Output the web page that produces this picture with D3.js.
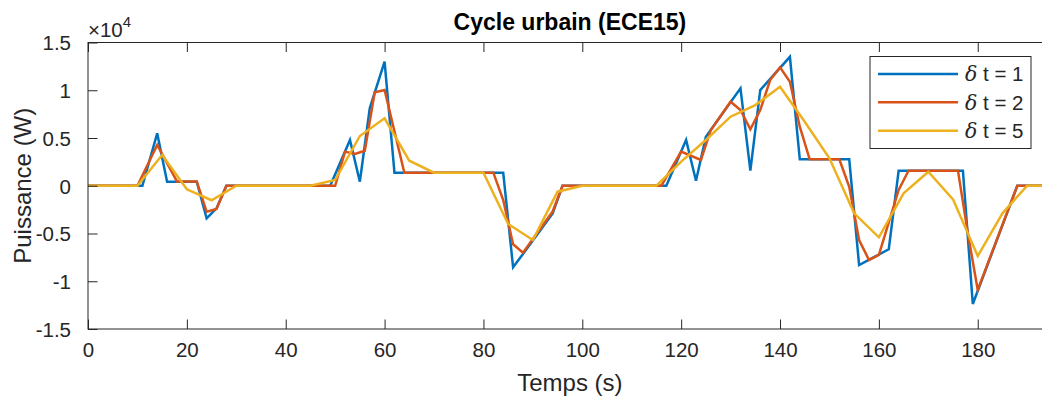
<!DOCTYPE html>
<html>
<head>
<meta charset="utf-8">
<script src="https://cdn.jsdelivr.net/npm/d3@7"></script>
<style>
  html, body { margin: 0; padding: 0; background: #fff; }
  svg { display: block; }
  text { font-family: "Liberation Sans", Arial, Helvetica, sans-serif; fill: #262626; }
</style>
</head>
<body>
<svg id="chart" width="1042" height="397"></svg>
<script>
// ---- data ----
const title = "Cycle urbain (ECE15)";
const xLabel = "Temps (s)";
const yLabel = "Puissance (W)";
const xTicks = [0, 20, 40, 60, 80, 100, 120, 140, 160, 180];
const yTicks = [-15000, -10000, -5000, 0, 5000, 10000, 15000];
const yTickLabels = ["-1.5", "-1", "-0.5", "0", "0.5", "1", "1.5"];
const seriesNames = ["1", "2", "5"];
const seriesColors = ["#0072BD", "#D95319", "#EDB120"];

// δt = 1 (breakpoints of the curve)
const tBlue = [0, 11, 14, 16, 22, 24, 26, 28, 49, 53, 55, 57, 60, 62, 84, 86, 88, 94, 96, 117, 121, 123, 125, 132, 134, 136, 142, 144, 154, 156, 162, 164, 177, 179, 188, 195];
const pBlue = [0, 0, 5490, 424, 424, -3410, -2360, 0, 0, 4790, 424, 8110, 12990, 1370, 1370, -8540, -7150, -2890, 0, 0, 4790, 530, 5140, 10200, 1580, 10020, 13500, 2770, 2770, -8300, -6650, 1580, 1580, -12380, 0, 0];

// δt = 2
const tRed = [0, 10, 14, 18, 22, 24, 26, 28, 50, 52, 54, 56, 58, 60, 64, 82, 84, 86, 88, 94, 96, 116, 120, 124, 126, 130, 132, 134, 136, 138, 140, 142, 144, 146, 152, 154, 156, 158, 160, 164, 166, 176, 178, 180, 188, 194];
const pRed = [0, 0, 4270, 450, 450, -2720, -2430, 0, 0, 3570, 3320, 3670, 9780, 10020, 1370, 1370, -1500, -6130, -7010, -2700, 0, 0, 3570, 2700, 5840, 8800, 7930, 5910, 7930, 11070, 12400, 10890, 6180, 2770, 2770, -100, -5680, -7770, -7250, -445, 1580, 1580, -4980, -10910, 0, 0];

// δt = 5
const tYellow = [0, 5, 10, 15, 20, 25, 30, 35, 40, 45, 50, 55, 60, 65, 70, 75, 80, 85, 90, 95, 100, 105, 110, 115, 120, 125, 130, 135, 140, 145, 150, 155, 160, 165, 170, 175, 180, 185, 190, 195];
const pYellow = [0, 0, 0, 3220, -370, -1520, 0, 0, 0, 0, 600, 5210, 7060, 2620, 1370, 1370, 1370, -4000, -5680, -620, 0, 0, 0, 0, 2520, 4790, 7230, 8450, 10370, 6700, 2870, -2890, -5400, -790, 1470, -1420, -7360, -2890, 0, 0];

// ---- layout ----
const plotL = 88, plotT = 42.5, plotB = 329;
const pxPerSec = 4.943;
const xMax = 195;
const plotR = plotL + xMax * pxPerSec;

const svg = d3.select("#chart");
const x = d3.scaleLinear().domain([0, xMax]).range([plotL, plotR]);
const y = d3.scaleLinear().domain([-15000, 15000]).range([plotB, plotT]);

svg.append("defs").append("clipPath").attr("id", "plotClip")
  .append("rect").attr("x", plotL).attr("y", plotT).attr("width", plotR - plotL).attr("height", plotB - plotT);

svg.append("rect").attr("x", plotL).attr("y", plotT).attr("width", plotR - plotL).attr("height", plotB - plotT).attr("fill", "#fff");

// series
const series = [
  {t: tBlue, p: pBlue},
  {t: tRed, p: pRed},
  {t: tYellow, p: pYellow}
];
const line = d3.line().x(d => x(d[0])).y(d => y(d[1]));
const g = svg.append("g").attr("clip-path", "url(#plotClip)");
series.forEach((s, i) => {
  const pts = s.t.map((t, k) => [t, s.p[k]]);
  g.append("path").datum(pts)
    .attr("d", line)
    .attr("fill", "none")
    .attr("stroke", seriesColors[i])
    .attr("stroke-width", 2.5)
    .attr("stroke-linejoin", "miter");
});

// axes (box with inward ticks)
const tickLen = 9.5;
const axisColor = "#262626";
const axG = svg.append("g");
const xAxisB = d3.axisBottom(x).tickValues(xTicks).tickSize(-tickLen).tickPadding(13).tickFormat(d3.format("d"));
const xAxisT = d3.axisTop(x).tickValues(xTicks).tickSize(-tickLen).tickFormat("");
const yAxisL = d3.axisLeft(y).tickValues(yTicks).tickSize(-tickLen).tickPadding(17).tickFormat((d, i) => yTickLabels[i]);
const yAxisR = d3.axisRight(y).tickValues(yTicks).tickSize(-tickLen).tickFormat("");

function styleAxis(sel) {
  sel.select(".domain").attr("stroke", axisColor).attr("stroke-width", 1);
  sel.selectAll(".tick line").attr("stroke", axisColor).attr("stroke-width", 1);
  sel.selectAll(".tick text").attr("fill", "#262626").style("font-size", "20.5px")
    .style("font-family", "'Liberation Sans', Arial, sans-serif");
}
const gxB = axG.append("g").attr("transform", `translate(0,${plotB})`).call(xAxisB).call(styleAxis);
gxB.selectAll(".tick text").attr("dy", "0.71em");
axG.append("g").attr("transform", `translate(0,${plotT})`).call(xAxisT).call(styleAxis);
const gyL = axG.append("g").attr("transform", `translate(${plotL},0)`).call(yAxisL).call(styleAxis);
gyL.selectAll(".tick text").attr("dy", "0.36em");
axG.append("g").attr("transform", `translate(${plotR},0)`).call(yAxisR).call(styleAxis);
axG.selectAll(".domain").remove();
axG.append("rect").attr("x", plotL).attr("y", plotT).attr("width", plotR - plotL).attr("height", plotB - plotT)
  .attr("fill", "none").attr("stroke", axisColor).attr("stroke-width", 1);

// exponent label
const ex = svg.append("text").attr("x", plotL).attr("y", 37).style("font-size", "20.5px");
ex.append("tspan").text("×10");
ex.append("tspan").attr("dy", -10).style("font-size", "15px").text("4");

// title
svg.append("text").attr("x", (plotL + plotR) / 2).attr("y", 30).attr("text-anchor", "middle")
  .style("font-size", "23px").style("font-weight", "bold").style("fill", "#000").text(title);

// axis labels
svg.append("text").attr("x", (plotL + plotR) / 2).attr("y", 391).attr("text-anchor", "middle")
  .style("font-size", "24px").text(xLabel);
svg.append("text").attr("transform", `translate(31,${(plotT + plotB) / 2}) rotate(-90)`).attr("text-anchor", "middle")
  .style("font-size", "24px").text(yLabel);

// legend
const lg = svg.append("g");
const lgX = 870, lgY = 56.5, lgW = 161, lgH = 92;
lg.append("rect").attr("x", lgX).attr("y", lgY).attr("width", lgW).attr("height", lgH)
  .attr("fill", "#fff").attr("stroke", axisColor).attr("stroke-width", 1);
const rowY = [74, 102.3, 130.7];
seriesNames.forEach((n, i) => {
  lg.append("line").attr("x1", 878).attr("x2", 958).attr("y1", rowY[i]).attr("y2", rowY[i])
    .attr("stroke", seriesColors[i]).attr("stroke-width", 2.5);
  const t = lg.append("text").attr("x", 965).attr("y", rowY[i]).attr("dy", "0.36em").style("font-size", "20.5px");
  t.append("tspan").style("font-family", "'DejaVu Serif', 'Liberation Serif', serif").style("font-style", "italic").text("δ");
  t.append("tspan").text(" t = " + n);
});
</script>
</body>
</html>
